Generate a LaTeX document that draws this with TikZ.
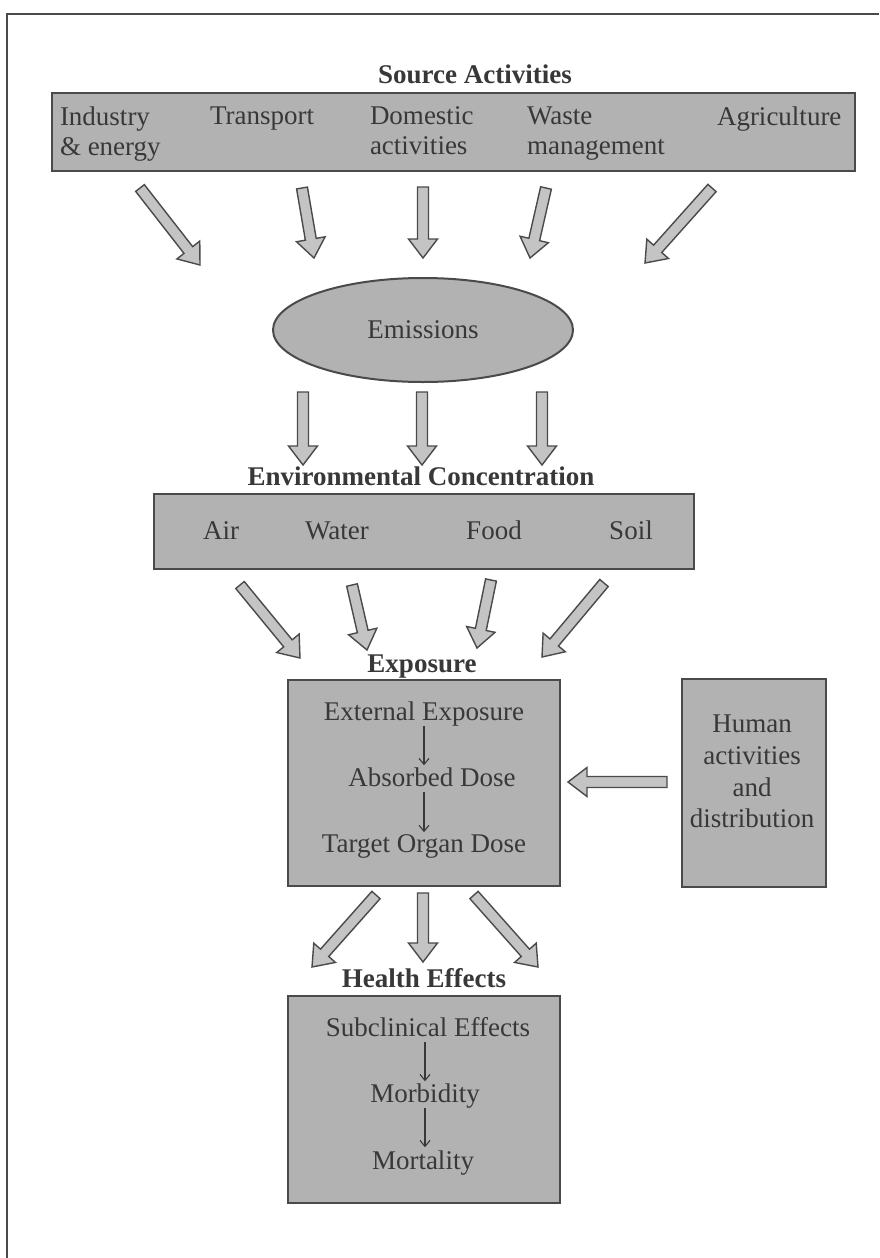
\documentclass[tikz,border=0pt]{standalone}
\usepackage{fontspec}
\setmainfont{Liberation Serif}
\usetikzlibrary{calc,shapes.geometric,arrows.meta}
\definecolor{boxfill}{HTML}{B2B2B2}
\definecolor{arrfill}{HTML}{C4C4C4}
\definecolor{edge}{HTML}{4A4A4A}
\definecolor{ink}{HTML}{383838}
\tikzset{
  box/.style={draw=edge, line width=2pt, fill=boxfill, inner sep=0pt, outer sep=0pt},
  txt/.style={text=ink, font=\fontsize{27}{31.7}\selectfont, inner sep=0pt, outer sep=0pt},
  srctxt/.style={txt, font=\fontsize{27}{30}\selectfont, align=left, anchor=north west},
  headtxt/.style={txt, font=\bfseries\fontsize{27}{31.7}\selectfont, anchor=base},
  barrow/.style={draw=edge, line width=1.4pt, fill=arrfill, line join=miter},
  thinarrow/.style={draw=ink, line width=1.1pt, -{Straight Barb[length=6pt,width=10pt]}},
  frameline/.style={draw=edge, line width=2pt}
}
\newcommand{\blockarrow}[2]{%
  \coordinate (bh) at ($(#2)!19pt!(#1)$);
  \path[barrow] ($(#1)!5.5pt!90:(#2)$) -- ($(bh)!5.5pt!90:(#2)$) -- ($(bh)!14.5pt!90:(#2)$) -- (#2)
     -- ($(bh)!14.5pt!-90:(#2)$) -- ($(bh)!5.5pt!-90:(#2)$) -- ($(#1)!5.5pt!-90:(#2)$) -- cycle;}
\begin{document}
\begin{tikzpicture}[x=1pt,y=-1pt]
\useasboundingbox (0,0) rectangle (879,1258);
\fill[white] (0,0) rectangle (879,1258);
% page frame
\coordinate (fbl) at (7,1258);
\coordinate (ftl) at (7,14);
\coordinate (ftr) at (879,14);
\draw[frameline] (fbl) -- (ftl) -- (ftr);

% Source activities
\node[headtxt] (tsrc) at (475,83) {Source Activities};
\node[box, minimum width=803pt, minimum height=78pt] (bsrc) at (453.5,132) {};
\node[srctxt] (ind) at (60,106.7) {Industry\\\& energy};
\node[srctxt] (tra) at (210,106.7) {Transport};
\node[srctxt] (dom) at (370,106.7) {Domestic\\activities};
\node[srctxt] (was) at (527,106.7) {Waste\\management};
\node[srctxt] (agr) at (717,106.7) {Agriculture};

% arrows to emissions
\coordinate (s1) at (140,188); \coordinate (e1) at (200,265);
\coordinate (s2) at (302,188); \coordinate (e2) at (314,258);
\coordinate (s3) at (423,187); \coordinate (e3) at (423,258);
\coordinate (s4) at (546,188); \coordinate (e4) at (530,258);
\coordinate (s5) at (712,188); \coordinate (e5) at (645,263);
\blockarrow{s1}{e1}\blockarrow{s2}{e2}\blockarrow{s3}{e3}\blockarrow{s4}{e4}\blockarrow{s5}{e5}

% Emissions
\node[ellipse, draw=edge, line width=2pt, fill=boxfill, minimum width=300pt, minimum height=104pt,
      inner sep=0pt, text=ink, font=\fontsize{27}{31.7}\selectfont] (emi) at (423,330) {Emissions};

\coordinate (s6) at (303,392); \coordinate (e6) at (303,465);
\coordinate (s7) at (422,392); \coordinate (e7) at (422,465);
\coordinate (s8) at (542,392); \coordinate (e8) at (542,465);
\blockarrow{s6}{e6}\blockarrow{s7}{e7}\blockarrow{s8}{e8}

% Environmental concentration
\node[headtxt] (tenv) at (421,485) {Environmental Concentration};
\node[box, minimum width=540pt, minimum height=75pt] (benv) at (424,531.5) {};
\node[txt, anchor=base] (air) at (221,539) {Air};
\node[txt, anchor=base] (wat) at (337,539) {Water};
\node[txt, anchor=base] (foo) at (494,539) {Food};
\node[txt, anchor=base] (soi) at (631,539) {Soil};

\coordinate (s9) at (240,585); \coordinate (e9) at (300,658);
\coordinate (s10) at (352,585); \coordinate (e10) at (367,650);
\coordinate (s11) at (491,580); \coordinate (e11) at (477,648);
\coordinate (s12) at (604,583); \coordinate (e12) at (542,657);
\blockarrow{s9}{e9}\blockarrow{s10}{e10}\blockarrow{s11}{e11}\blockarrow{s12}{e12}

% Exposure
\node[headtxt] (texp) at (422,672) {Exposure};
\node[box, minimum width=272.5pt, minimum height=206pt] (bexp) at (423.75,783) {};
\node[txt, anchor=base] (ext) at (424,720) {External Exposure};
\node[txt, anchor=base] (abd) at (432,786) {Absorbed Dose};
\node[txt, anchor=base] (tod) at (424,852) {Target Organ Dose};
\draw[thinarrow, shorten >=2pt] (ext.south) -- (ext.south |- abd.north);
\draw[thinarrow, shorten <=6pt, shorten >=2pt] (ext.south |- abd.south) -- (ext.south |- tod.north);

% Human activities
\node[box, minimum width=144pt, minimum height=208pt] (bhum) at (754,783) {};
\node[txt, align=center] (hum) at (752,771.5) {Human\\activities\\and\\distribution};
\coordinate (s13) at (667,782); \coordinate (e13) at (568,782);
\blockarrow{s13}{e13}

% arrows to health effects
\coordinate (s14) at (376,895); \coordinate (e14) at (312,967);
\coordinate (s15) at (423,893); \coordinate (e15) at (423,962);
\coordinate (s16) at (474,895); \coordinate (e16) at (538,967);
\blockarrow{s14}{e14}\blockarrow{s15}{e15}\blockarrow{s16}{e16}

% Health effects
\node[headtxt] (thea) at (424,987) {Health Effects};
\node[box, minimum width=272pt, minimum height=207pt] (bhea) at (424,1099.5) {};
\node[txt, anchor=base] (sub) at (428,1036) {Subclinical Effects};
\node[txt, anchor=base] (mor) at (425,1102) {Morbidity};
\node[txt, anchor=base] (mrt) at (423,1169) {Mortality};
\draw[thinarrow, shorten <=6pt, shorten >=2pt] (mor.north |- sub.south) -- (mor.north);
\draw[thinarrow, shorten >=3pt] (mor.south) -- (mor.south |- mrt.north);
\end{tikzpicture}
\end{document}
